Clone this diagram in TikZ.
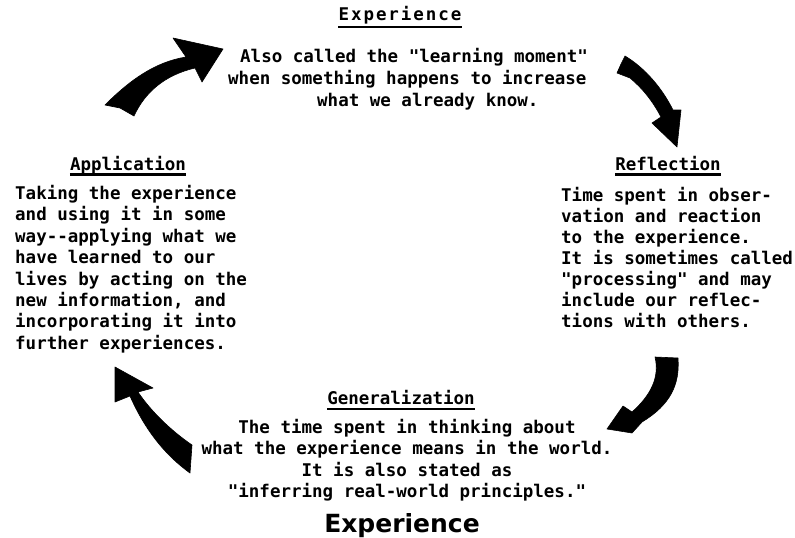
\documentclass[tikz,border=0pt]{standalone}
\usepackage{fontspec}
\newfontfamily\tw{DejaVu Sans Mono}
\newfontfamily\bigsans{DejaVu Sans}
\tikzset{
  body/.style={inner sep=0pt, anchor=base west, font=\tw\bfseries\fontsize{17.5}{21.4}\selectfont},
  ttl/.style={inner sep=0pt, anchor=base, font=\tw\bfseries\fontsize{17.5}{21.4}\selectfont},
  uline/.style={line width=2.4pt},
  swoosh/.style={fill=black, draw=black, line width=0.6pt, line join=round},
}
\begin{document}
\begin{tikzpicture}[x=1pt,y=-1pt]
\useasboundingbox (0,0) rectangle (795,538);

% titles
\node[ttl] (t1) at (400,20) {\addfontfeature{LetterSpace=11}Experience};
\node[ttl] (t2) at (128,170) {Application};
\node[ttl] (t3) at (668,170.5) {Reflection};
\node[ttl] (t4) at (401,404.5) {Generalization};
\draw[uline] ([yshift=-7pt]t1.base west) -- ([yshift=-7pt]t1.base east);
\draw[uline] ([yshift=-4.5pt]t2.base west) -- ([yshift=-4.5pt]t2.base east);
\draw[uline] ([yshift=-4pt]t3.base west) -- ([yshift=-4pt]t3.base east);
\draw[uline] ([yshift=-4.5pt]t4.base west) -- ([yshift=-4.5pt]t4.base east);

% bodies
\node[body] (b1) at (228,62.5) {\parbox[t]{420pt}{\fontsize{17.5}{22}\selectfont\raggedright
\hspace*{12pt}Also called the "learning moment"\\
when something happens to increase\\
\hspace*{89pt}what we already know.}};

\node[body] (b2) at (15,199.5) {\parbox[t]{260pt}{\raggedright
Taking the experience\\
and using it in some\\
way-{}-applying what we\\
have learned to our\\
lives by acting on the\\
new information, and\\
incorporating it into\\
further experiences.}};

\node[body] (b3) at (561,201.5) {\parbox[t]{240pt}{\fontsize{17.5}{21}\selectfont\raggedright
Time spent in obser-\\
vation and reaction\\
to the experience.\\
It is sometimes called\\
"processing" and may\\
include our reflec-\\
tions with others.}};

\node[body, anchor=base] (b4) at (407,433.5) {\parbox[t]{460pt}{\centering
The time spent in thinking about\\
what the experience means in the world.\\
It is also stated as\\
"inferring real-world principles."}};

\node[inner sep=0pt, anchor=base, font=\bigsans\bfseries\fontsize{25}{30}\selectfont] (ex) at (402,532) {Experience};

% arrows
% top-left: Application -> Experience
\fill[swoosh] (105,105) .. controls (130,80) and (155,62) .. (186,57)
  -- (173,38) -- (223,49) -- (202,82) -- (195,68)
  .. controls (165,75) and (145,92) .. (134,116) -- (120,108) -- cycle;
% top-right: Experience -> Reflection
\fill[swoosh] (625,56) .. controls (645,68) and (662,88) .. (673,110)
  -- (681,110) -- (677,147) -- (652,123) -- (661,117)
  .. controls (652,100) and (642,88) .. (630,78)
  -- (617,73) -- (621,64) -- cycle;
% bottom-right: Reflection -> Generalization
\fill[swoosh] (655,357) -- (678,358) .. controls (680,385) and (670,405) .. (642,422)
  -- (632,433) -- (607,429) -- (623,406) -- (632,412)
  .. controls (650,396) and (660,378) .. (655,357) -- cycle;
% bottom-left: Generalization -> Application
\fill[swoosh] (115,367) -- (153,388) -- (138,392)
  .. controls (150,410) and (170,430) .. (192,445)
  -- (190,473) .. controls (165,455) and (145,430) .. (130,396)
  -- (115,402) -- cycle;
\end{tikzpicture}
\end{document}
